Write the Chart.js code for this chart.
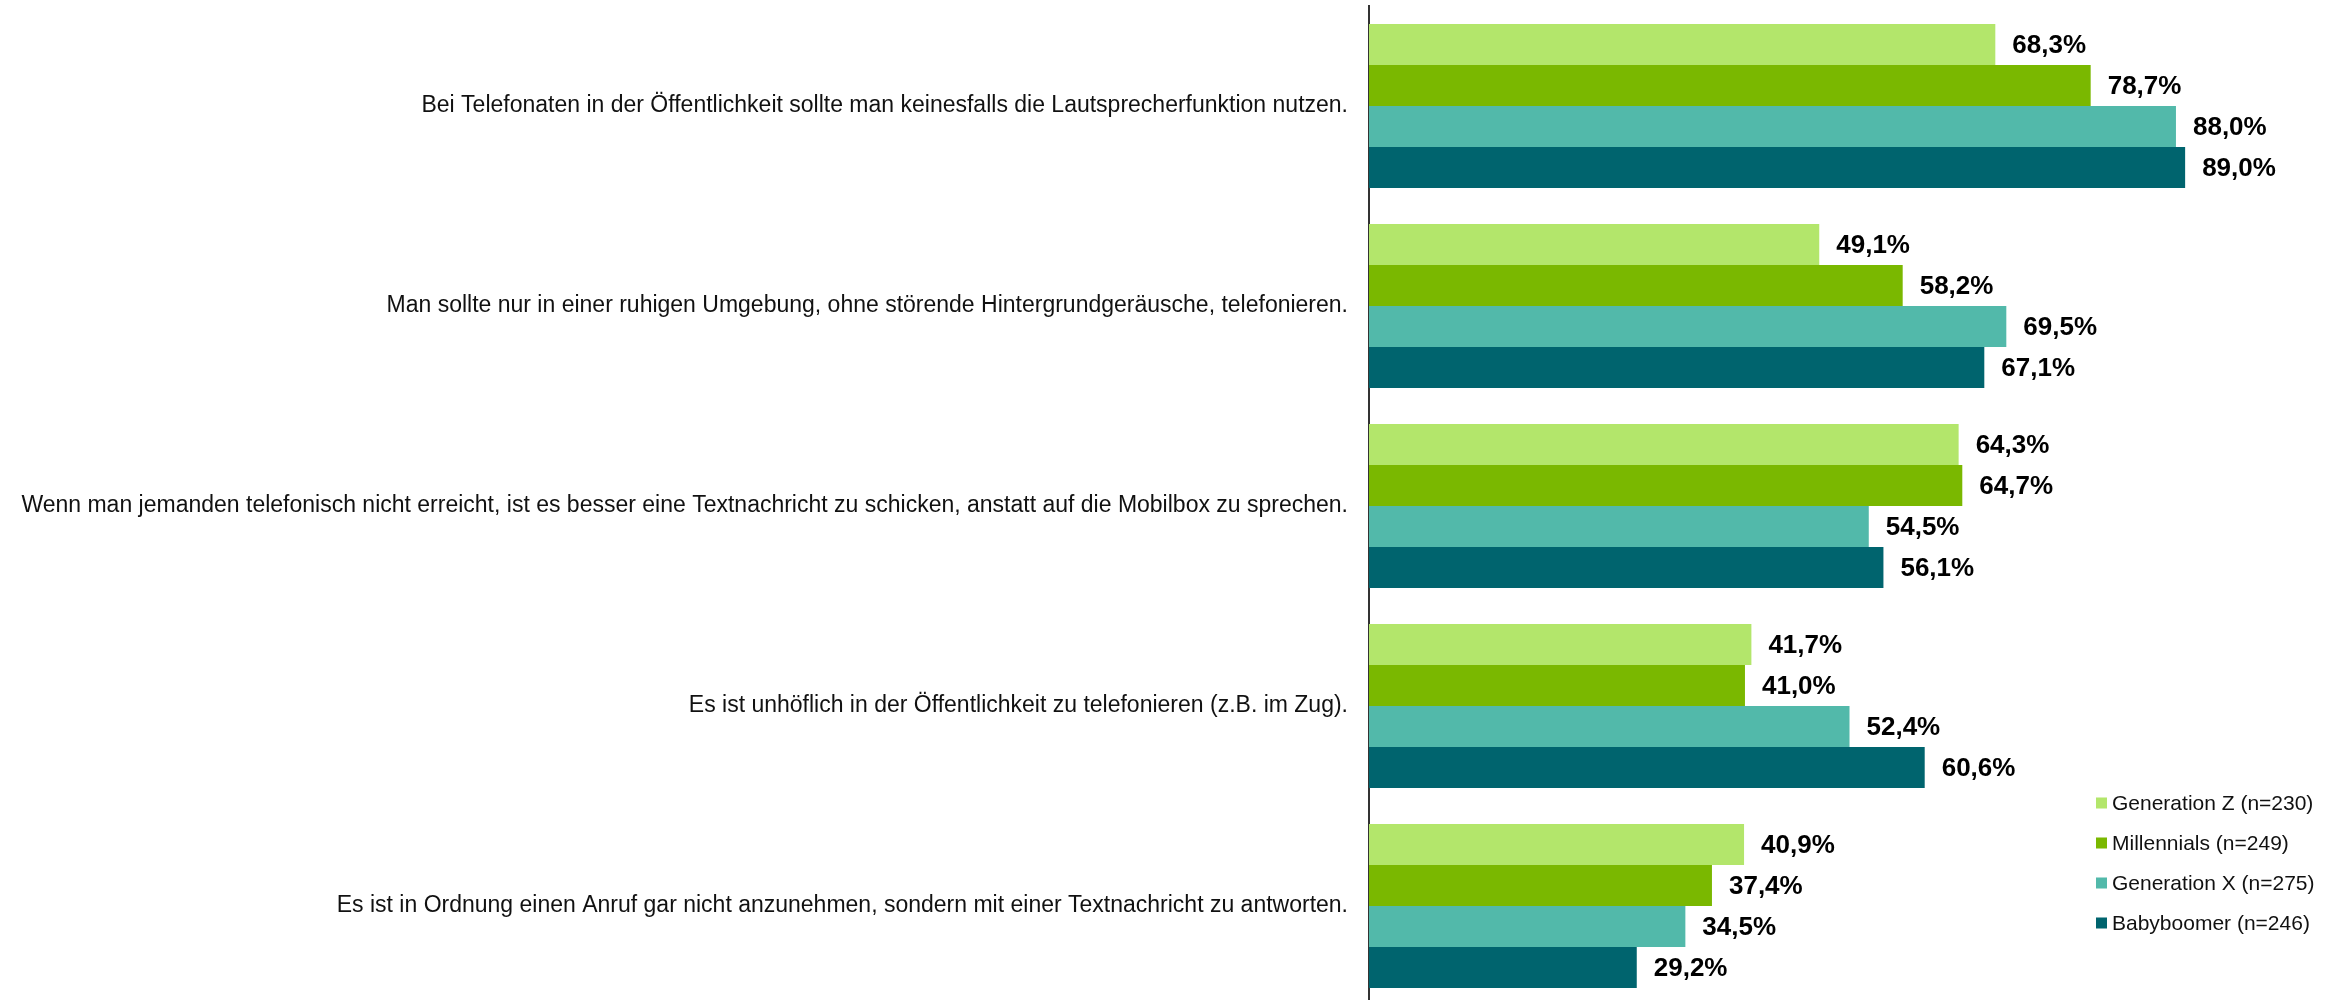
<!DOCTYPE html>
<html>
<head>
<meta charset="utf-8">
<script src="https://cdn.jsdelivr.net/npm/chart.js@4/dist/chart.umd.min.js"></script>
<style>
  html, body { margin: 0; padding: 0; background: #fff; overflow: hidden; }
  #wrap { position: relative; width: 2341px; height: 1006px; }
</style>
</head>
<body>
<div id="wrap"><canvas id="chart"></canvas></div>
<script>
const categories = [
  'Bei Telefonaten in der Öffentlichkeit sollte man keinesfalls die Lautsprecherfunktion nutzen.',
  'Man sollte nur in einer ruhigen Umgebung, ohne störende Hintergrundgeräusche, telefonieren.',
  'Wenn man jemanden telefonisch nicht erreicht, ist es besser eine Textnachricht zu schicken, anstatt auf die Mobilbox zu sprechen.',
  'Es ist unhöflich in der Öffentlichkeit zu telefonieren (z.B. im Zug).',
  'Es ist in Ordnung einen Anruf gar nicht anzunehmen, sondern mit einer Textnachricht zu antworten.'
];
const seriesNames = ['Generation Z (n=230)', 'Millennials (n=249)', 'Generation X (n=275)', 'Babyboomer (n=246)'];
const genZ = [68.3, 49.1, 64.3, 41.7, 40.9];
const millennials = [78.7, 58.2, 64.7, 41.0, 37.4];
const genX = [88.0, 69.5, 54.5, 52.4, 34.5];
const boomers = [89.0, 67.1, 56.1, 60.6, 29.2];
const colors = ['#B3E66B', '#7AB800', '#52B9AA', '#00646E'];

const FONT = '"Liberation Sans", Arial, sans-serif';

const valueLabels = {
  id: 'valueLabels',
  afterDatasetsDraw(chart) {
    const ctx = chart.ctx;
    ctx.save();
    ctx.font = 'bold 26px ' + FONT;
    ctx.fillStyle = '#000';
    ctx.textAlign = 'left';
    ctx.textBaseline = 'middle';
    chart.data.datasets.forEach((ds, i) => {
      chart.getDatasetMeta(i).data.forEach((bar, j) => {
        const txt = ds.data[j].toFixed(1).replace('.', ',') + '%';
        ctx.fillText(txt, bar.x + 17, bar.y + 1);
      });
    });
    ctx.restore();
  }
};

// legend drawn inside the plot, bottom right
const boxLegend = {
  id: 'boxLegend',
  afterDraw(chart) {
    const ctx = chart.ctx;
    ctx.save();
    ctx.font = '21px ' + FONT;
    ctx.textBaseline = 'middle';
    ctx.textAlign = 'left';
    chart.data.datasets.forEach((ds, i) => {
      const y = 803 + i * 40;
      ctx.fillStyle = ds.backgroundColor;
      ctx.fillRect(2096, y - 5.5, 11, 11);
      ctx.fillStyle = '#111';
      ctx.fillText(ds.label, 2112, y + 1);
    });
    ctx.restore();
  }
};

new Chart(document.getElementById('chart'), {
  type: 'bar',
  data: {
    labels: categories,
    datasets: [genZ, millennials, genX, boomers].map((d, i) => ({
      label: seriesNames[i],
      data: d,
      backgroundColor: colors[i],
      barPercentage: 1,
      categoryPercentage: 0.821
    }))
  },
  options: {
    indexAxis: 'y',
    responsive: true,
    maintainAspectRatio: false,
    animation: false,
    layout: { padding: { top: 6, right: 55, bottom: 0, left: 0 } },
    plugins: { legend: { display: false }, tooltip: { enabled: false } },
    scales: {
      x: { min: 0, max: 100, display: false },
      y: {
        grid: { display: false, drawTicks: false },
        border: { display: true, color: '#333', width: 2 },
        ticks: { color: '#111', padding: 21, font: { family: FONT, size: 23 } },
        afterFit(scale) {
          scale.width = 1369;
          scale.paddingTop = 0;
          scale.paddingBottom = 0;
        }
      }
    }
  },
  plugins: [valueLabels, boxLegend]
});
</script>
</body>
</html>
